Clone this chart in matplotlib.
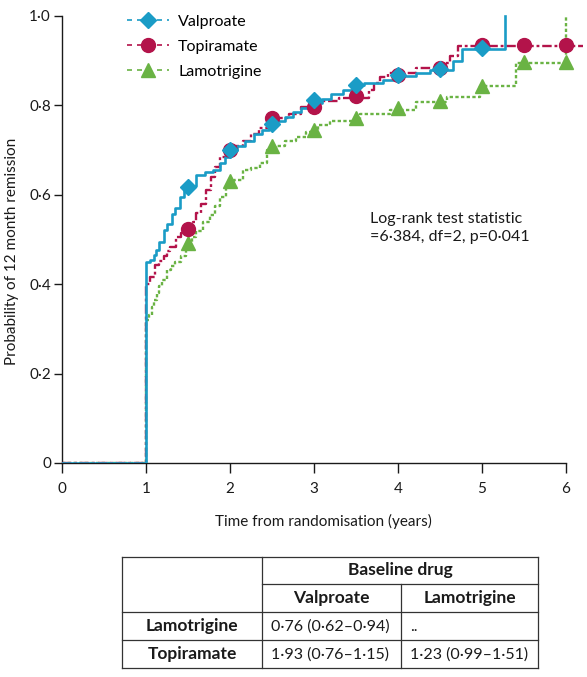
import matplotlib
matplotlib.use("Agg")
import matplotlib.pyplot as plt
from matplotlib.lines import Line2D
import numpy as np

plt.rcParams['font.family'] = ['Lato', 'DejaVu Sans']

# ---------------- data ----------------
valp_t = [0, 1.0, 1.05, 1.09, 1.12, 1.16, 1.21, 1.25, 1.31, 1.35, 1.40, 1.45, 1.52, 1.60, 1.70,
          1.80, 1.88, 1.94, 2.0, 2.08, 2.18, 2.28, 2.38, 2.46, 2.55, 2.65, 2.75, 2.85, 2.95, 3.1,
          3.2, 3.35, 3.45, 3.6, 3.82, 3.95, 4.22, 4.38, 4.66, 4.76, 5.27]
valp_p = [0, 0.45, 0.455, 0.465, 0.476, 0.495, 0.521, 0.535, 0.557, 0.57, 0.596, 0.61, 0.62, 0.644, 0.65,
          0.655, 0.67, 0.685, 0.70, 0.71, 0.72, 0.735, 0.745, 0.755, 0.765, 0.775, 0.785, 0.795, 0.805, 0.815,
          0.825, 0.834, 0.845, 0.85, 0.857, 0.866, 0.872, 0.879, 0.90, 0.927, 1.0]

topi_t = [0, 1.0, 1.05, 1.11, 1.16, 1.21, 1.25, 1.29, 1.36, 1.42, 1.5, 1.56, 1.6, 1.66, 1.72, 1.77,
          1.82, 1.88, 1.95, 2.05, 2.15, 2.25, 2.35, 2.45, 2.55, 2.7, 2.85, 3.05, 3.3, 3.65, 3.72,
          3.79, 3.88, 4.22, 4.56, 4.62, 4.72, 6.23]
topi_p = [0, 0.40, 0.417, 0.443, 0.452, 0.462, 0.475, 0.484, 0.506, 0.515, 0.523, 0.54, 0.559, 0.58, 0.611, 0.64,
          0.663, 0.685, 0.70, 0.71, 0.72, 0.735, 0.75, 0.765, 0.772, 0.78, 0.797, 0.81, 0.816, 0.834, 0.85,
          0.864, 0.872, 0.883, 0.894, 0.91, 0.932, 0.932]

lamo_t = [0, 1.0, 1.03, 1.07, 1.10, 1.13, 1.16, 1.19, 1.25, 1.30, 1.35, 1.42, 1.48, 1.55, 1.6, 1.68,
          1.76, 1.82, 1.88, 1.95, 2.05, 2.16, 2.25, 2.36, 2.44, 2.55, 2.65, 2.78, 2.9, 3.05, 3.19,
          3.55, 3.9, 4.22, 4.58, 4.98, 5.41, 6.0]
lamo_p = [0, 0.32, 0.33, 0.35, 0.365, 0.38, 0.395, 0.41, 0.432, 0.44, 0.45, 0.462, 0.49, 0.505, 0.52, 0.54,
          0.555, 0.575, 0.595, 0.62, 0.633, 0.655, 0.66, 0.67, 0.70, 0.71, 0.72, 0.73, 0.74, 0.756, 0.766,
          0.781, 0.79, 0.808, 0.819, 0.843, 0.894, 1.0]

valp_mark_t = [1.5, 2.0, 2.5, 3.0, 3.5, 4.0, 4.5, 5.0]
valp_mark_p = [0.617, 0.70, 0.758, 0.812, 0.845, 0.867, 0.881, 0.928]
topi_mark_t = [1.5, 2.0, 2.5, 3.0, 3.5, 4.0, 4.5, 5.0, 5.5, 6.0]
topi_mark_p = [0.523, 0.70, 0.772, 0.797, 0.822, 0.868, 0.883, 0.934, 0.934, 0.934]
lamo_mark_t = [1.5, 2.0, 2.5, 3.0, 3.5, 4.0, 4.5, 5.0, 5.5, 6.0]
lamo_mark_p = [0.492, 0.630, 0.709, 0.745, 0.771, 0.793, 0.81, 0.843, 0.898, 0.898]

series_names = ["Valproate", "Topiramate", "Lamotrigine"]
x_ticks = [0, 1, 2, 3, 4, 5, 6]
y_ticks = [0, 0.2, 0.4, 0.6, 0.8, 1.0]
y_tick_labels = ["0", "0·2", "0·4", "0·6", "0·8", "1·0"]

stat_text = "Log-rank test statistic\n=6·384, df=2, p=0·041"

table_header = "Baseline drug"
table_cols = ["Valproate", "Lamotrigine"]
table_rows = ["Lamotrigine", "Topiramate"]
table_values = [["0·76 (0·62–0·94)", ".."],
                ["1·93 (0·76–1·15)", "1·23 (0·99–1·51)"]]

# ---------------- style ----------------
C_VAL = "#1a9cc6"
C_TOP = "#b3134a"
C_LAM = "#6ab344"

W, H = 587, 677
fig = plt.figure(figsize=(W / 100, H / 100), dpi=100)

def fx(px):
    return px / W

def fy(py):
    return 1 - py / H

ax = fig.add_axes([fx(62), fy(463), (582.8 - 62) / W, (463 - 7) / H])
ax.set_xlim(0, 6.2)
ax.set_ylim(0, 1.02)

ax.step(lamo_t, lamo_p, where='post', color=C_LAM, lw=1.7, dashes=(1.4, 1.0), zorder=2)
ax.step(topi_t, topi_p, where='post', color=C_TOP, lw=1.7, dashes=(4, 1.2, 1.2, 1.2), zorder=3)
ax.step(valp_t, valp_p, where='post', color=C_VAL, lw=1.9, zorder=4)

ax.plot(lamo_mark_t, lamo_mark_p, ls='none', marker='^', ms=10, color=C_LAM, zorder=5)
ax.plot(topi_mark_t, topi_mark_p, ls='none', marker='o', ms=10, color=C_TOP, zorder=6)
ax.plot(valp_mark_t, valp_mark_p, ls='none', marker='D', ms=8, color=C_VAL, zorder=7)

for s in ['top', 'right']:
    ax.spines[s].set_visible(False)
ax.spines['left'].set_bounds(0, 1)
ax.spines['bottom'].set_bounds(0, 6)
for s in ['left', 'bottom']:
    ax.spines[s].set_linewidth(1.0)
    ax.spines[s].set_color('#1a1a1a')

ax.set_xticks(x_ticks)
ax.set_xticklabels([str(v) for v in x_ticks])
ax.set_yticks(y_ticks)
ax.set_yticklabels(y_tick_labels)
ax.tick_params(axis='x', direction='out', length=7, width=1.0, pad=7, labelsize=11, colors='#1a1a1a')
ax.tick_params(axis='y', direction='out', length=6, width=1.0, pad=2, labelsize=11, colors='#1a1a1a')

ax.set_xlabel("Time from randomisation (years)", fontsize=11, color='#1a1a1a')
ax.xaxis.set_label_coords(0.502, -0.112)
ax.xaxis.label.set_va('top')
fig.text(fx(12), fy(251), "Probability of 12 month remission", rotation=90,
         ha='center', va='center', fontsize=11, color='#1a1a1a')

ax.text(3.67, 0.526, stat_text, ha='left', va='center', fontsize=11.5,
        color='#1a1a1a', linespacing=1.35)

handles = [
    Line2D([], [], color=C_VAL, lw=1.2, dashes=(3, 3), marker='D', ms=8),
    Line2D([], [], color=C_TOP, lw=1.2, dashes=(3, 3), marker='o', ms=10),
    Line2D([], [], color=C_LAM, lw=1.2, dashes=(3, 3), marker='^', ms=10),
]
ax.legend(handles, series_names, loc='upper left', bbox_to_anchor=(0.125, 0.983),
          frameon=False, fontsize=11.5, handlelength=2.6, handletextpad=0.6,
          labelspacing=0.68, borderpad=0, borderaxespad=0)

# ---------------- table ----------------
LC = '#333333'
LW = 0.9
xl, xc1, xc2, xr = 122, 262, 401, 538
y0, y1, y2, y3, y4 = 557, 584, 612, 640, 668
for yy in [y0, y2, y3, y4]:
    fig.add_artist(Line2D([fx(xl), fx(xr)], [fy(yy), fy(yy)], color=LC, lw=LW))
fig.add_artist(Line2D([fx(xc1), fx(xr)], [fy(y1), fy(y1)], color=LC, lw=LW))
for xx in [xl, xc1, xr]:
    fig.add_artist(Line2D([fx(xx), fx(xx)], [fy(y0), fy(y4)], color=LC, lw=LW))
fig.add_artist(Line2D([fx(xc2), fx(xc2)], [fy(y1), fy(y4)], color=LC, lw=LW))

TSB = 12.5
TSV = 11.5
tc = '#1a1a1a'
fig.text(fx((xc1 + xr) / 2), fy((y0 + y1) / 2), table_header, ha='center', va='center',
         fontsize=TSB, fontweight='bold', color=tc)
col_centers = [(xc1 + xc2) / 2, (xc2 + xr) / 2]
col_lefts = [xc1 + 9, xc2 + 9]
for j, name in enumerate(table_cols):
    fig.text(fx(col_centers[j]), fy((y1 + y2) / 2), name, ha='center', va='center',
             fontsize=TSB, fontweight='bold', color=tc)
row_mid = [(y2 + y3) / 2, (y3 + y4) / 2]
for i, name in enumerate(table_rows):
    fig.text(fx((xl + xc1) / 2), fy(row_mid[i]), name, ha='center', va='center',
             fontsize=TSB, fontweight='bold', color=tc)
    for j, val in enumerate(table_values[i]):
        fig.text(fx(col_lefts[j]), fy(row_mid[i] + 5), val, ha='left', va='baseline',
                 fontsize=TSV, color=tc)

fig.savefig("out.png", dpi=100)
